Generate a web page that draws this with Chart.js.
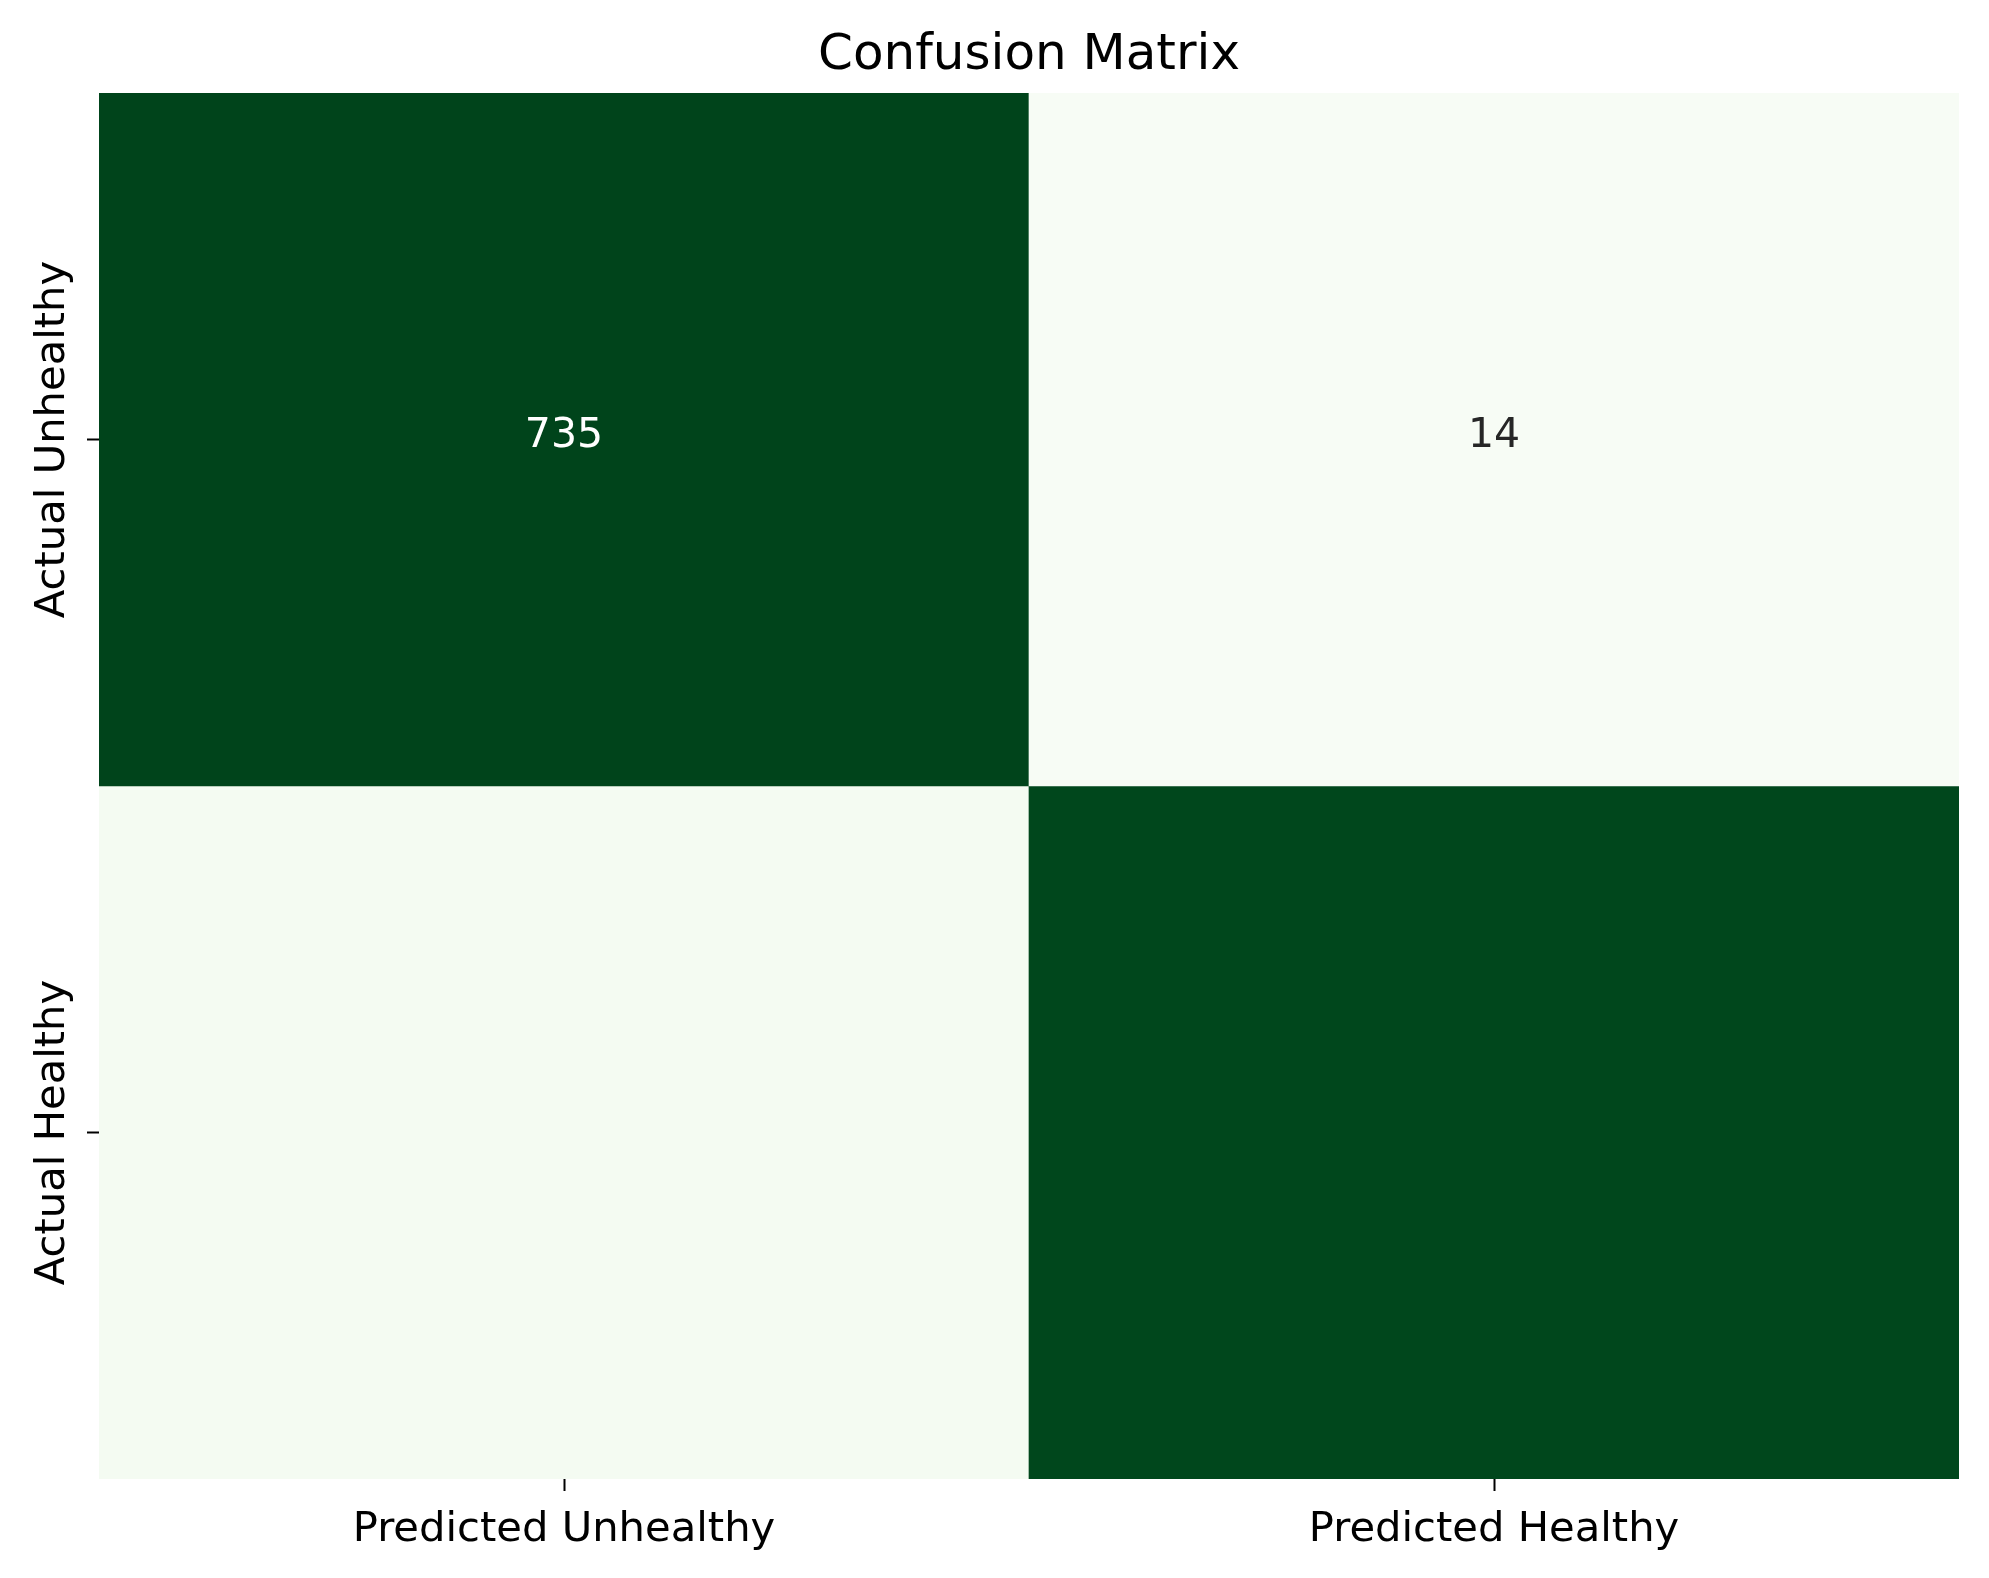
<!DOCTYPE html>
<html>
<head>
<meta charset="utf-8">
<script src="https://cdn.jsdelivr.net/npm/chart.js@4/dist/chart.umd.min.js"></script>
<style>
  html, body { margin: 0; padding: 0; background: #ffffff; }
  #wrap { width: 1989px; height: 1578px; }
  canvas { background: #ffffff; }
</style>
</head>
<body>
<div id="wrap"><canvas id="c" width="1989" height="1578"></canvas></div>
<script>
// ---- data ----
const colLabels = ['Predicted Unhealthy', 'Predicted Healthy'];
const rowLabels = ['Actual Unhealthy', 'Actual Healthy'];
const rowUnhealthy = [735, 14];
const rowHealthy = [28, 728];
const annotatedRows = [0]; // the reference only prints numbers in the first row
const titleText = 'Confusion Matrix';

// ---- colour map (matplotlib "Greens") ----
const greens = ['#f7fcf5', '#e5f5e0', '#c7e9c0', '#a1d99b', '#74c476', '#41ab5d', '#238b45', '#006d2c', '#00441b'];
function hexToRgb(h) { return [parseInt(h.slice(1,3),16), parseInt(h.slice(3,5),16), parseInt(h.slice(5,7),16)]; }
const stops = greens.map(hexToRgb);
function cmap(t) {
  t = Math.max(0, Math.min(1, t));
  const p = t * (stops.length - 1);
  const i = Math.min(stops.length - 2, Math.floor(p));
  const f = p - i;
  const a = stops[i], b = stops[i + 1];
  return [0,1,2].map(k => Math.round(a[k] + (b[k] - a[k]) * f));
}
const matrix = [rowUnhealthy, rowHealthy];
const allVals = matrix.flat();
const vmin = Math.min(...allVals), vmax = Math.max(...allVals);
function cellRgb(v) { return cmap((v - vmin) / (vmax - vmin)); }
function rgbStr(c) { return 'rgb(' + c.join(',') + ')'; }
function textColorFor(c) {
  const lum = (0.2126 * c[0] + 0.7152 * c[1] + 0.0722 * c[2]) / 255;
  return lum > 0.408 ? '#262626' : '#ffffff';
}

const FONT = 'DejaVu Sans';
const LABEL_SIZE = 41.7;

const datasets = matrix.map((row, r) => ({
  label: rowLabels[r],
  data: row.map(() => [r, r + 1]),
  backgroundColor: row.map(v => rgbStr(cellRgb(v))),
  borderWidth: 0,
  borderSkipped: false,
  barPercentage: 1,
  categoryPercentage: 1,
  grouped: false
}));

const annotPlugin = {
  id: 'annot',
  afterDatasetsDraw(chart) {
    const ctx = chart.ctx;
    const xs = chart.scales.x, ys = chart.scales.y;
    ctx.save();
    ctx.font = '41px "' + FONT + '"';
    ctx.textAlign = 'center';
    ctx.textBaseline = 'middle';
    annotatedRows.forEach(r => {
      matrix[r].forEach((v, c) => {
        ctx.fillStyle = textColorFor(cellRgb(v));
        ctx.fillText(String(v), xs.getPixelForValue(c), ys.getPixelForValue(r + 0.5) - 3);
      });
    });
    ctx.restore();
  }
};

const yLabelPlugin = {
  id: 'ylabels',
  afterDraw(chart) {
    const ctx = chart.ctx;
    const ys = chart.scales.y;
    ctx.save();
    ctx.font = LABEL_SIZE + 'px "' + FONT + '"';
    ctx.fillStyle = '#000000';
    ctx.textAlign = 'center';
    ctx.textBaseline = 'alphabetic';
    rowLabels.forEach((lab, r) => {
      const y = ys.getPixelForValue(r + 0.5);
      ctx.save();
      ctx.translate(chart.chartArea.left - 35, y);
      ctx.rotate(-Math.PI / 2);
      ctx.fillText(lab, 0, 0);
      ctx.restore();
    });
    ctx.restore();
  }
};

new Chart(document.getElementById('c'), {
  type: 'bar',
  data: { labels: colLabels, datasets },
  options: {
    responsive: false,
    animation: false,
    devicePixelRatio: 1,
    layout: { padding: { left: 99, right: 30, top: 0, bottom: 0 } },
    plugins: {
      legend: { display: false },
      tooltip: { enabled: false },
      title: {
        display: true,
        text: titleText,
        color: '#000000',
        font: { family: FONT, size: 50, weight: 'normal' },
        padding: { top: 26, bottom: 7 }
      }
    },
    scales: {
      x: {
        type: 'category',
        offset: true,
        border: { display: false },
        grid: { display: true, drawOnChartArea: false, offset: false, tickLength: 12, tickWidth: 2, tickColor: '#000000' },
        ticks: { color: '#000000', font: { family: FONT, size: LABEL_SIZE }, padding: 14, maxRotation: 0, minRotation: 0 },
        afterFit(scale) { scale.height = 99; }
      },
      y: {
        type: 'linear',
        min: 0,
        max: matrix.length,
        reverse: true,
        border: { display: false },
        grid: { display: true, drawOnChartArea: false, tickLength: 12, tickWidth: 2, tickColor: '#000000' },
        ticks: { display: false },
        afterBuildTicks(scale) { scale.ticks = rowLabels.map((_, i) => ({ value: i + 0.5 })); },
        afterFit(scale) { scale.width = 0; }
      }
    }
  },
  plugins: [annotPlugin, yLabelPlugin]
});
</script>
</body>
</html>
